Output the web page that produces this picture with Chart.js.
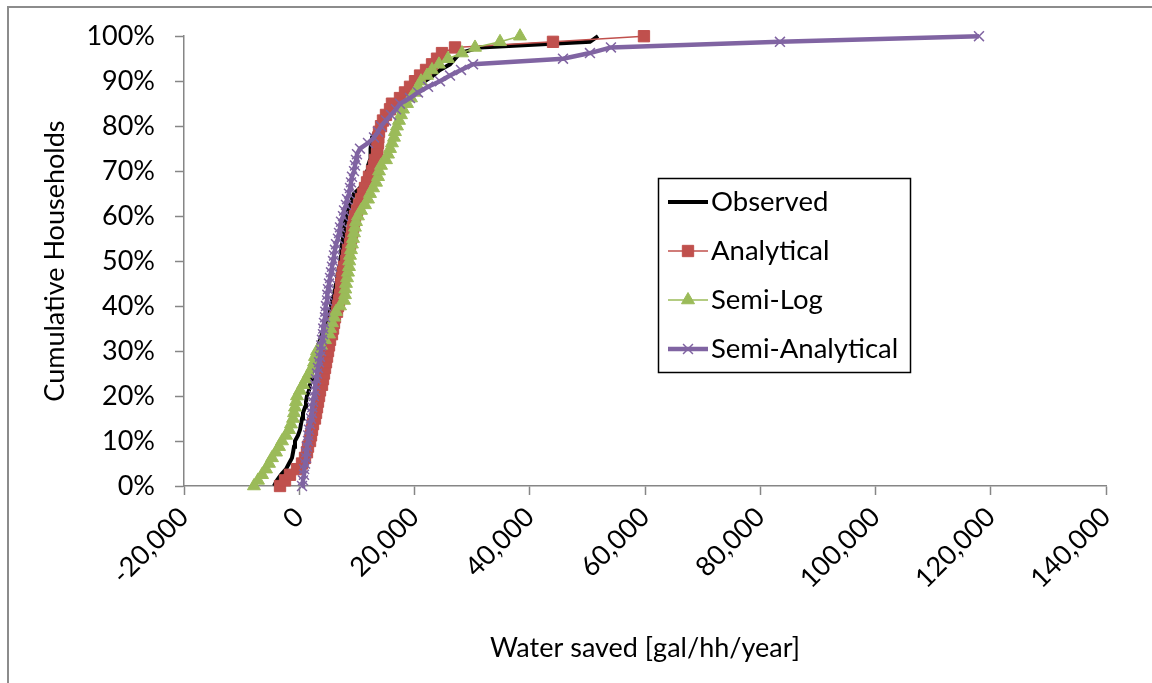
<!DOCTYPE html>
<html>
<head>
<meta charset="utf-8">
<script src="https://cdn.jsdelivr.net/npm/chart.js@4.4.1/dist/chart.umd.min.js"></script>
<style>
  html, body { margin: 0; padding: 0; background: #fff; }
  #wrap { position: relative; width: 1152px; height: 683px; }
</style>
</head>
<body>
<div id="wrap"><canvas id="cdfChart" width="1152" height="683"></canvas></div>
<script>
// cumulative share of households (%) for each ranked household
const cumPct = [0, 1.25, 2.5, 3.75, 5, 6.25, 7.5, 8.75, 10, 11.25, 12.5, 13.75, 15, 16.25, 17.5, 18.75,
  20, 21.25, 22.5, 23.75, 25, 26.25, 27.5, 28.75, 30, 31.25, 32.5, 33.75, 35, 36.25, 37.5, 38.75,
  40, 41.25, 42.5, 43.75, 45, 46.25, 47.5, 48.75, 50, 51.25, 52.5, 53.75, 55, 56.25, 57.5, 58.75,
  60, 61.25, 62.5, 63.75, 65, 66.25, 67.5, 68.75, 70, 71.25, 72.5, 73.75, 75, 76.25, 77.5, 78.75,
  80, 81.25, 82.5, 83.75, 85, 86.25, 87.5, 88.75, 90, 91.25, 92.5, 93.75, 95, 96.25, 97.5, 98.75, 100];

// water saved, gal/hh/year (sorted)
const observed = [-4380, -3860, -3170, -2300, -1780, -1260, -1080, -910, -740, -220, 130, 300, 480, 650, 1000, 1170,
  1340, 1690, 1870, 2040, 2210, 2390, 2560, 2730, 2910, 3250, 3600, 3950, 4290, 4640, 4990, 5340,
  5510, 5680, 6030, 6200, 6380, 6550, 6720, 6900, 7070, 7250, 7300, 7420, 7590, 7770, 7800, 7940,
  8110, 8460, 8810, 9150, 9500, 10540, 11060, 11410, 11760, 11930, 12280, 12300, 12450, 12500, 12620, 13150,
  14010, 14710, 15400, 16090, 16790, 17830, 18870, 20090, 21820, 23210, 24420, 26160, 27030, 27900, 31370, 50450, 51850];

const analytical = [-3340, -2470, -1610, -390, 480, 1000, 1340, 1520, 1870, 2040, 2210, 2390, 2730, 2910, 3080, 3250,
  3430, 3600, 3950, 4120, 4290, 4470, 4640, 4820, 4990, 5160, 5340, 5680, 5860, 6030, 6200, 6550,
  6720, 6900, 7070, 7250, 7300, 7420, 7590, 7770, 8110, 8290, 8460, 8810, 8980, 9150, 9330, 9500,
  9670, 10020, 10370, 10720, 11060, 11410, 11760, 12100, 12620, 12970, 13150, 13490, 13550, 13670, 13720, 13840,
  14190, 14530, 15050, 15750, 16090, 17480, 18350, 19220, 20090, 20960, 22000, 23040, 23910, 24770, 27030, 44030, 59820];

const semiLog = [-7860, -7160, -6460, -5770, -5250, -4730, -4030, -3510, -2990, -2300, -1780, -1430, -1080, -910, -740, -560,
  -390, 130, 650, 1170, 1690, 2210, 2560, 2730, 3080, 3770, 4470, 5160, 5340, 5680, 6030, 6380,
  7070, 7770, 7940, 7990, 8110, 8290, 8460, 8630, 8680, 8810, 8980, 9150, 9330, 9500, 9670, 9850,
  10190, 10720, 11410, 11930, 12280, 12800, 13320, 13670, 13840, 14190, 15050, 15400, 15750, 16090, 16440, 16610,
  16960, 17310, 17660, 18000, 18700, 19390, 20090, 20610, 21130, 22170, 23040, 24250, 25810, 28240, 30500, 34840, 38310];

const semiAnalytical = [480, 650, 820, 850, 1000, 1170, 1200, 1340, 1520, 1560, 1690, 1870, 2040, 2210, 2260, 2390,
  2560, 2730, 2780, 2910, 3080, 3250, 3430, 3600, 3770, 3820, 3950, 4120, 4170, 4290, 4470, 4520,
  4640, 4820, 4870, 4990, 5160, 5340, 5510, 5680, 5860, 6030, 6200, 6380, 6720, 6900, 7070, 7250,
  7590, 7770, 8110, 8290, 8630, 8810, 8980, 9150, 9500, 9670, 9850, 10020, 10540, 11930, 12970, 13670,
  14190, 15050, 15920, 16790, 17480, 19220, 20610, 22350, 24420, 26160, 28070, 30160, 45770, 50450, 54090, 83420, 117960];

const xMin = -20000, xMax = 140000, xStep = 20000;
const yMin = 0, yMax = 100, yStep = 10;

const toPoints = vals => vals.map((v, i) => ({ x: v, y: cumPct[i] }));

Chart.defaults.font.family = 'Lato, "Open Sans", sans-serif';
Chart.defaults.font.size = 27;
Chart.defaults.color = '#000';

// outer chart frame (only top and left edges are in view)
const framePlugin = {
  id: 'frame',
  beforeDraw(chart) {
    const ctx = chart.ctx;
    ctx.save();
    ctx.strokeStyle = '#8c8c8c';
    ctx.lineWidth = 2;
    ctx.beginPath();
    ctx.moveTo(8, chart.height);
    ctx.lineTo(8, 7);
    ctx.lineTo(chart.width, 7);
    ctx.stroke();
    ctx.restore();
  }
};

// boxed legend inside the plot, Excel style
const legendBox = {
  id: 'legendBox',
  afterDraw(chart) {
    const ctx = chart.ctx;
    const left = 658, top = 178, w = 252, h = 194, rowH = 49, firstY = 202;
    ctx.save();
    ctx.fillStyle = '#fff';
    ctx.fillRect(left, top, w, h);
    ctx.strokeStyle = '#000';
    ctx.lineWidth = 1.5;
    ctx.strokeRect(left + 0.5, top + 0.5, w, h);
    chart.data.datasets.forEach((ds, i) => {
      const y = firstY + i * rowH;
      ctx.strokeStyle = ds.borderColor;
      ctx.lineWidth = ds.borderWidth;
      ctx.beginPath();
      ctx.moveTo(668, y);
      ctx.lineTo(708, y);
      ctx.stroke();
      if (ds.pointRadius > 0) {
        ctx.fillStyle = ds.pointBackgroundColor;
        ctx.strokeStyle = ds.pointBorderColor;
        ctx.lineWidth = ds.pointBorderWidth;
        Chart.helpers.drawPoint(ctx, {
          pointStyle: ds.pointStyle, radius: ds.pointRadius,
          borderWidth: ds.pointBorderWidth, rotation: 0
        }, 688, y);
      }
      ctx.fillStyle = '#000';
      ctx.font = '27.5px Lato, "Open Sans", sans-serif';
      ctx.textAlign = 'left';
      ctx.textBaseline = 'middle';
      ctx.fillText(ds.label, 711, y);
    });
    ctx.restore();
  }
};

new Chart(document.getElementById('cdfChart'), {
  type: 'scatter',
  data: {
    datasets: [
      {
        label: 'Observed',
        data: toPoints(observed),
        showLine: true,
        borderColor: '#000000',
        borderWidth: 4,
        pointRadius: 0,
        pointHoverRadius: 0,
        order: 3,
        clip: false
      },
      {
        label: 'Analytical',
        data: toPoints(analytical),
        showLine: true,
        borderColor: '#C0504D',
        borderWidth: 1.5,
        pointStyle: 'rect',
        pointRadius: 8,
        pointBackgroundColor: '#C0504D',
        pointBorderColor: '#C0504D',
        pointBorderWidth: 1,
        order: 2,
        clip: false
      },
      {
        label: 'Semi-Log',
        data: toPoints(semiLog),
        showLine: true,
        borderColor: '#9BBB59',
        borderWidth: 1.5,
        pointStyle: 'triangle',
        pointRadius: 7.5,
        pointBackgroundColor: '#9BBB59',
        pointBorderColor: '#9BBB59',
        pointBorderWidth: 1,
        order: 1,
        clip: false
      },
      {
        label: 'Semi-Analytical',
        data: toPoints(semiAnalytical),
        showLine: true,
        borderColor: '#8064A2',
        borderWidth: 4.5,
        pointStyle: 'crossRot',
        pointRadius: 7,
        pointBackgroundColor: '#8064A2',
        pointBorderColor: '#8064A2',
        pointBorderWidth: 1.5,
        order: 0,
        clip: false
      }
    ]
  },
  options: {
    responsive: false,
    animation: false,
    devicePixelRatio: 1,
    layout: { padding: { left: 39, top: 35, right: 46, bottom: 19 } },
    plugins: {
      legend: { display: false },
      tooltip: { enabled: false }
    },
    scales: {
      x: {
        type: 'linear',
        min: xMin,
        max: xMax,
        afterFit: s => { s.height = 178; },
        border: { color: '#868686', width: 1.5 },
        grid: { drawOnChartArea: false, color: '#868686', tickLength: 9, tickWidth: 1.5 },
        ticks: {
          stepSize: xStep,
          minRotation: 45,
          maxRotation: 45,
          padding: 6,
          callback: v => v.toLocaleString('en-US')
        },
        title: {
          display: true,
          text: 'Water saved [gal/hh/year]',
          padding: { top: 0, bottom: 0 }
        }
      },
      y: {
        type: 'linear',
        min: yMin,
        max: yMax,
        afterFit: s => { s.width = 145; },
        border: { color: '#868686', width: 1.5 },
        grid: { drawOnChartArea: false, color: '#868686', tickLength: 9, tickWidth: 1.5 },
        ticks: {
          stepSize: yStep,
          padding: 20,
          callback: v => v + '%'
        },
        title: {
          display: true,
          text: 'Cumulative Households',
          padding: { top: 0, bottom: 0 }
        }
      }
    }
  },
  plugins: [framePlugin, legendBox]
});
</script>
</body>
</html>
